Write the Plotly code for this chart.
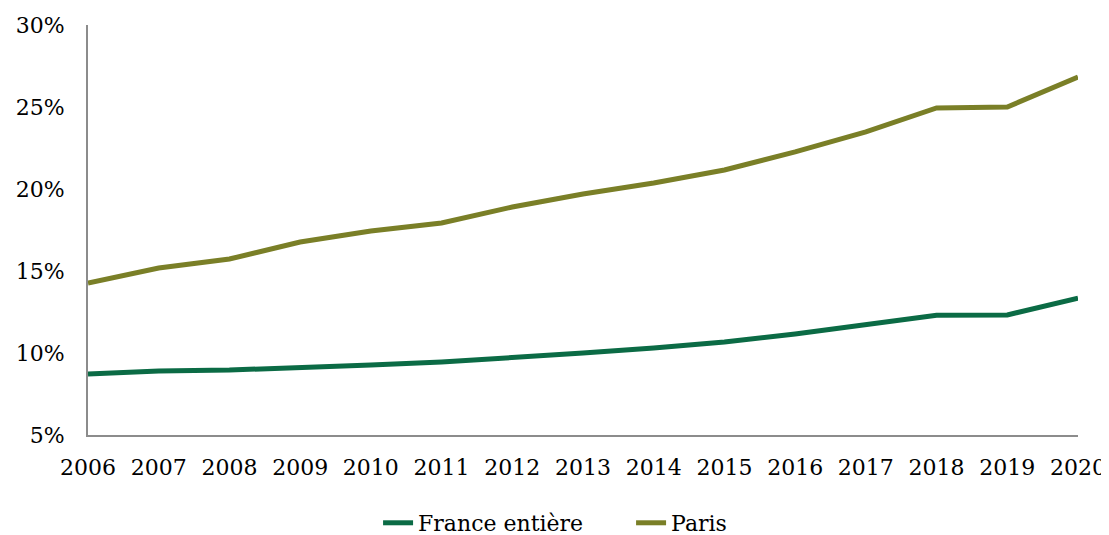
import plotly.graph_objects as go

annees = list(range(2006, 2021))
france = [8.72, 8.9, 8.96, 9.15, 9.27, 9.45, 9.7, 10.0, 10.3, 10.67, 11.16, 11.7, 12.3, 12.32, 13.35]
paris = [14.27, 15.18, 15.73, 16.77, 17.44, 17.93, 18.9, 19.7, 20.37, 21.16, 22.26, 23.48, 24.94, 25.0, 26.83]

police = "DejaVu Serif"

fig = go.Figure()
fig.add_trace(go.Scatter(x=annees, y=france, mode="lines", name="France entière",
                         line=dict(color="#0b6b45", width=5)))
fig.add_trace(go.Scatter(x=annees, y=paris, mode="lines", name="Paris",
                         line=dict(color="#7a7f27", width=5)))

# la page html décale la figure de 8 px (marge du body), le bas dépasse de la fenêtre
fig.update_layout(
    width=1109, height=560,
    margin=dict(l=80, r=39, t=17, b=133),
    plot_bgcolor="white", paper_bgcolor="white",
    font=dict(family=police, size=22, color="black"),
    legend=dict(orientation="h", x=0.293, xanchor="left", y=-0.2146, yanchor="middle",
                font=dict(size=22), entrywidth=208),
)
fig.update_xaxes(range=[2006, 2020], dtick=1, showgrid=False, zeroline=False,
                 showline=True, linecolor="#8c8c8c", linewidth=2,
                 ticks="outside", ticklen=12, tickcolor="white", automargin=False)
fig.update_yaxes(range=[5, 30], dtick=5, ticksuffix="%", showgrid=False, zeroline=False,
                 showline=True, linecolor="#8c8c8c", linewidth=2,
                 ticks="outside", ticklen=17, tickcolor="white", automargin=False)

fig.write_html("out.html")
